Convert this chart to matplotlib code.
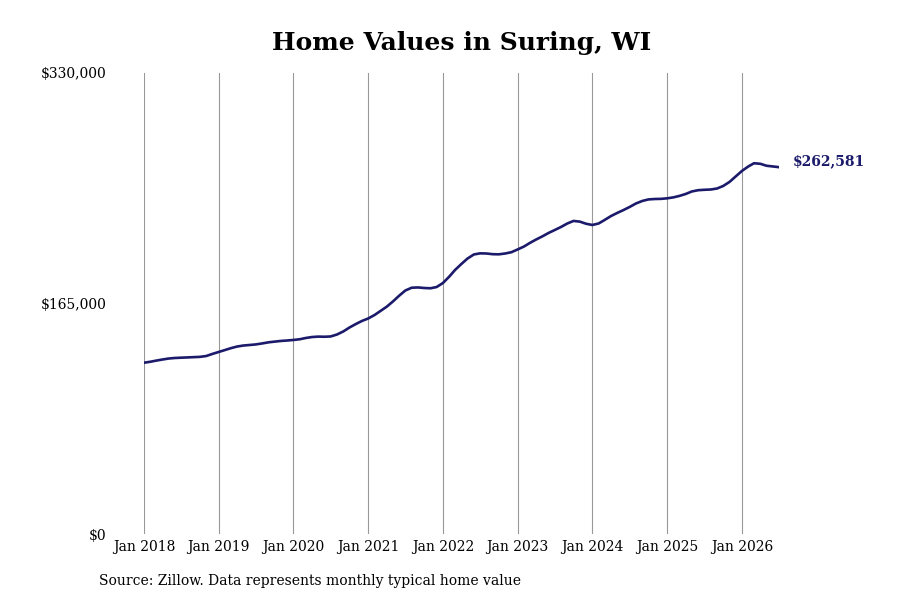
import matplotlib.pyplot as plt
import matplotlib.dates as mdates
import pandas as pd

# monthly typical home value, Jan 2018 onward
start_month = "2018-01-01"
home_values = [
    122600, 123300, 124100, 124900, 125600, 126000, 126200, 126400, 126600, 126800, 127400, 128900,
    130300, 131700, 133000, 134200, 134900, 135300, 135700, 136400, 137200, 137700, 138200, 138500,
    138900, 139400, 140300, 141000, 141300, 141200, 141400, 142800, 145000, 147800, 150300, 152500,
    154300, 156800, 159600, 162700, 166400, 170600, 174300, 176300, 176500, 176100, 175900, 176800,
    179700, 184300, 189000, 193300, 197200, 200100, 200900, 200800, 200300, 200200, 200800, 201700,
    203700, 205800, 208300, 210800, 213000, 215500, 217600, 219800, 222300, 224100, 223600, 222100,
    221200, 222300, 224800, 227600, 229800, 231900, 234100, 236600, 238400, 239500, 239800, 239900,
    240300, 241000, 242000, 243400, 245200, 246100, 246400, 246600, 247300, 249100, 252000, 255900,
    259900, 263100, 265400, 265000, 263600, 263100, 262581,
]
y_ticks = [0, 165000, 330000]
y_tick_labels = ["$0", "$165,000", "$330,000"]
tick_years = list(range(2018, 2027))

dates = pd.date_range(start_month, periods=len(home_values), freq="MS")
line_color = "#1b1a6b"

plt.rcParams["font.family"] = "DejaVu Serif"
fig = plt.figure(figsize=(9, 6), dpi=100)
ax = fig.add_axes([144 / 900, 1 - 534 / 600, 635 / 900, 461 / 600])

for yr in tick_years:
    ax.axvline(pd.Timestamp(f"{yr}-01-01"), color="#999999", lw=0.8, zorder=1)

ax.plot(dates, home_values, color=line_color, lw=1.9, solid_capstyle="round",
        solid_joinstyle="round", zorder=3)

ax.set_xlim(dates[0], dates[-1])
ax.set_ylim(0, 330000)
ax.set_yticks(y_ticks)
ax.set_yticklabels(y_tick_labels)
ax.set_xticks([pd.Timestamp(f"{yr}-01-01") for yr in tick_years])
ax.xaxis.set_major_formatter(mdates.DateFormatter("Jan %Y"))
ax.tick_params(axis="y", length=0, pad=27, labelsize=10)
ax.tick_params(axis="x", length=0, pad=4, labelsize=10)
for s in ax.spines.values():
    s.set_visible(False)

ax.annotate(f"${home_values[-1]:,}", xy=(dates[-1], home_values[-1]),
            xytext=(10, 4), textcoords="offset points", va="center", ha="left",
            fontsize=10, fontweight="bold", color=line_color, annotation_clip=False)

fig.text(461.5 / 900, 1 - 43 / 600, "Home Values in Suring, WI", ha="center", va="center",
         fontsize=18, fontweight="bold")
fig.text(99 / 900, 1 - 581 / 600, "Source: Zillow. Data represents monthly typical home value",
         ha="left", va="center", fontsize=10)

fig.savefig("out.png", dpi=100)
